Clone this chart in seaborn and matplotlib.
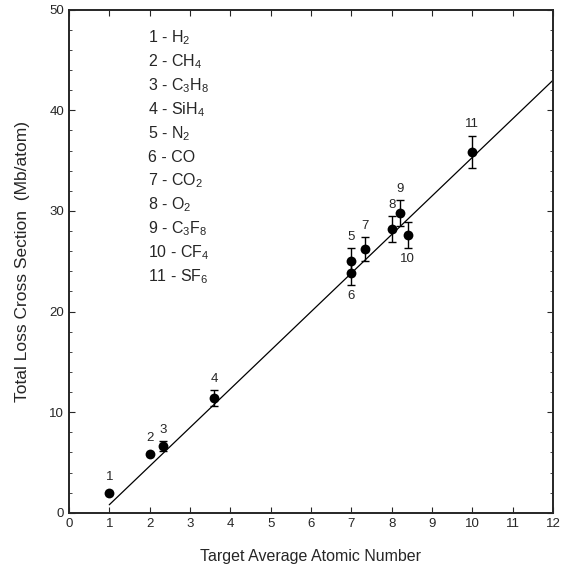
import matplotlib
matplotlib.use("Agg")
import matplotlib.pyplot as plt
import pandas as pd
import seaborn as sns
from matplotlib.ticker import MultipleLocator

# measured points
labels = ["1", "2", "3", "4", "5", "6", "7", "8", "9", "10", "11"]
atomic_number = [1.0, 2.0, 2.33, 3.6, 7.0, 7.0, 7.33, 8.0, 8.2, 8.4, 10.0]
cross_section = [2.0, 5.8, 6.6, 11.4, 25.0, 23.8, 26.2, 28.2, 29.8, 27.6, 35.9]
error = [0.0, 0.0, 0.5, 0.8, 1.3, 1.2, 1.2, 1.3, 1.3, 1.3, 1.6]
label_below = [False, False, False, False, False, True, False, False, False, True, False]

# linear fit line
fit_x = [1.0, 12.0]
fit_y = [0.8, 43.0]

gases = ["H$_2$", "CH$_4$", "C$_3$H$_8$", "SiH$_4$", "N$_2$", "CO", "CO$_2$",
         "O$_2$", "C$_3$F$_8$", "CF$_4$", "SF$_6$"]

sns.set_style("ticks")
plt.rcParams["font.family"] = ["Liberation Sans", "DejaVu Sans"]
plt.rcParams["mathtext.fontset"] = "custom"
plt.rcParams["mathtext.rm"] = "Liberation Sans"
plt.rcParams["mathtext.default"] = "regular"

df = pd.DataFrame({"x": atomic_number, "y": cross_section, "err": error, "label": labels})

fig = plt.figure(figsize=(5.84, 5.73), dpi=100)
ax = fig.add_axes([0.118, 0.105, 0.829, 0.878])

sns.lineplot(x=fit_x, y=fit_y, color="black", linewidth=0.9, ax=ax)
has_err = df["err"] > 0
ax.errorbar(df.loc[has_err, "x"], df.loc[has_err, "y"], yerr=df.loc[has_err, "err"],
            fmt="none", ecolor="black", elinewidth=1, capsize=3, capthick=1)
sns.scatterplot(data=df, x="x", y="y", color="black", s=50, edgecolor="black",
                linewidth=0, ax=ax, zorder=3)

for x, y, e, lab, below in zip(atomic_number, cross_section, error, labels, label_below):
    off = max(e, 0.5) + 0.5
    if below:
        ax.text(x, y - off, lab, ha="center", va="top", fontsize=9.5)
    else:
        ax.text(x, y + off, lab, ha="center", va="bottom", fontsize=9.5)

for i, (lab, gas) in enumerate(zip(labels, gases)):
    ax.text(1.97, 47.2 - i * 2.37, f"{lab} - {gas}", fontsize=11.5, va="center")

ax.set_xlim(0, 12)
ax.set_ylim(0, 50)
ax.xaxis.set_major_locator(MultipleLocator(1))
ax.yaxis.set_major_locator(MultipleLocator(10))
ax.yaxis.set_minor_locator(MultipleLocator(2))
ax.tick_params(direction="in", top=True, right=True, which="both", labelsize=9.5)
ax.tick_params(which="major", length=4)
ax.tick_params(which="minor", length=2.5)
for s in ax.spines.values():
    s.set_linewidth(1.4)

ax.set_xlabel("Target Average Atomic Number", fontsize=11.5, labelpad=14)
ax.set_ylabel("Total Loss Cross Section  (Mb/atom)", fontsize=12.5, labelpad=14)

fig.savefig("out.png", dpi=100)
